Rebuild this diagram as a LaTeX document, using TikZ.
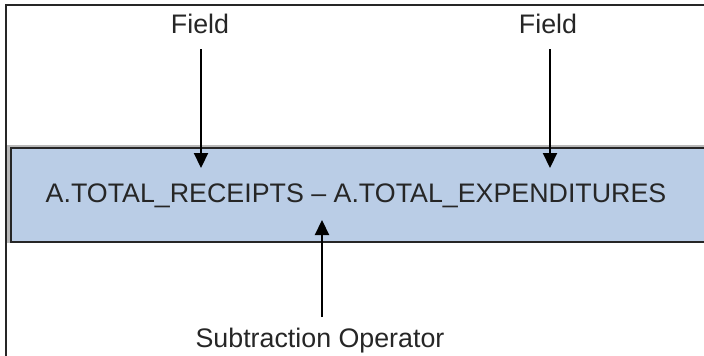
\documentclass[tikz,border=0pt]{standalone}
\usepackage{fontspec}
\setmainfont{Liberation Sans}
\usetikzlibrary{arrows.meta}
\definecolor{boxfill}{HTML}{BACDE6}
\definecolor{inkdark}{HTML}{262626}
\tikzset{
  label text/.style={font=\fontsize{26.8}{30}\selectfont, text=inkdark, inner sep=0pt, anchor=base},
  pointer/.style={line width=2.2pt, draw=black, -{Triangle[width=14pt,length=15pt]}},
  exprbox/.style={draw=inkdark, line width=2pt, fill=boxfill, minimum width=704pt, minimum height=93.5pt, inner sep=0pt, anchor=north west}
}
\begin{document}
\begin{tikzpicture}[x=1pt, y=-1pt]
  \useasboundingbox (0,0) rectangle (704,356);
  \clip (0,0) rectangle (704,356);

  % partial frame: top and left edges
  \draw[inkdark, line width=2pt] (5.5,356) -- (5.5,4.5) -- (704,4.5);

  % soft halo round the expression box, then the box itself
  \draw[gray!55, line width=4.5pt] (9.5,147) rectangle (713.5,240.5);
  \node[exprbox] (exprbox) at (9.5,147) {};

  % texts
  \node[label text] (field1) at (200,33) {Field};
  \node[label text] (field2) at (548,33) {Field};
  \node[label text] (expr) at (356,202) {A.TOTAL\_RECEIPTS – A.TOTAL\_EXPENDITURES};
  \node[label text] (oper) at (320,347) {Subtraction Operator};

  % arrow end points
  \coordinate (f1start) at (201,49);
  \coordinate (f1tip) at (201,168);
  \coordinate (f2start) at (550,49);
  \coordinate (f2tip) at (550,168);
  \coordinate (opstart) at (322,317);
  \coordinate (optip) at (322,220);

  \draw[pointer] (f1start) -- (f1tip);
  \draw[pointer] (f2start) -- (f2tip);
  \draw[pointer] (opstart) -- (optip);
\end{tikzpicture}
\end{document}
